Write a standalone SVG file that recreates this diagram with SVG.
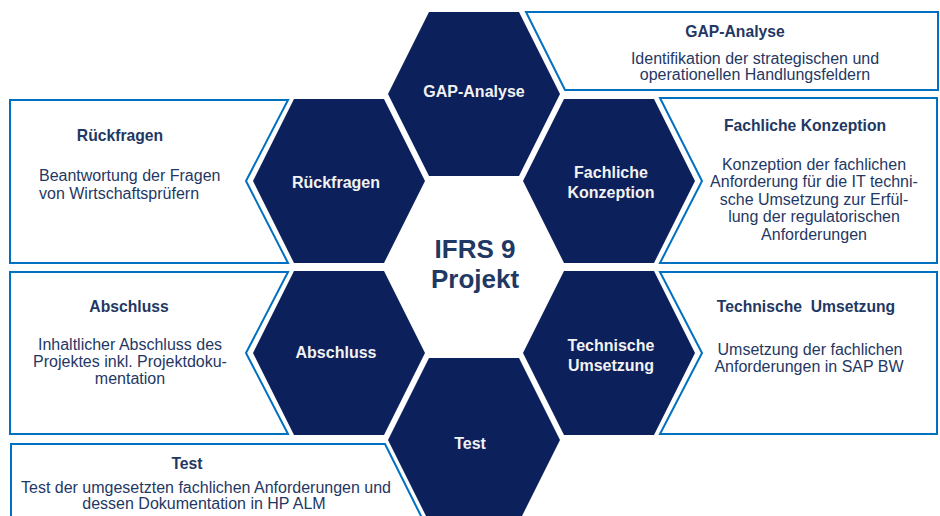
<svg xmlns="http://www.w3.org/2000/svg" width="940" height="516" viewBox="0 0 940 516">
<style>
.hex{fill:#0c205c;}
.hl{font-family:"Liberation Sans",Arial,sans-serif;font-size:16px;font-weight:bold;fill:#f2f2f2;text-anchor:middle;}
.box{fill:#ffffff;stroke:#0070c0;stroke-width:2;stroke-linejoin:miter;}
.bt{font-family:"Liberation Sans",Arial,sans-serif;font-size:15.7px;font-weight:bold;fill:#1f3864;text-anchor:middle;}
.bb{font-family:"Liberation Sans",Arial,sans-serif;font-size:16px;fill:#1f3864;text-anchor:middle;}
.ctr{font-family:"Liberation Sans",Arial,sans-serif;font-size:26px;font-weight:bold;fill:#1f3864;text-anchor:middle;}
</style>
<defs>
<polygon id="hexshape" points="-86,0 -45,-82 45,-82 86,0 45,82 -45,82"/>
</defs>
<rect width="940" height="516" fill="#ffffff"/>
<g id="connectors"></g>

<g id="box-gap">
<polygon class="box" points="526,12 938,12 938,90 565,90"/>
<text class="bt" x="735" y="37">GAP-Analyse</text>
<text class="bb" x="755" y="64">Identifikation der strategischen und</text>
<text class="bb" x="755" y="80">operationellen Handlungsfeldern</text>
</g>

<g id="box-rueckfragen">
<polygon class="box" points="10,100 288,100 246,181 288,263 10,263"/>
<text class="bt" x="120" y="141">Rückfragen</text>
<text class="bb" x="39" y="181" style="text-anchor:start">Beantwortung der Fragen</text>
<text class="bb" x="39" y="199" style="text-anchor:start">von Wirtschaftsprüfern</text>
</g>

<g id="box-fachlich">
<polygon class="box" points="660,98 937,98 937,263 660,263 702,181"/>
<text class="bt" x="805" y="131">Fachliche Konzeption</text>
<text class="bb" x="814" y="170">Konzeption der fachlichen</text>
<text class="bb" x="814" y="187">Anforderung für die IT techni-</text>
<text class="bb" x="814" y="205">sche Umsetzung zur Erfül-</text>
<text class="bb" x="814" y="222">lung der regulatorischen</text>
<text class="bb" x="814" y="240">Anforderungen</text>
</g>

<g id="box-technisch">
<polygon class="box" points="660,272 937,272 937,434 660,434 702,353"/>
<text class="bt" x="806" y="312" xml:space="preserve">Technische  Umsetzung</text>
<text class="bb" x="810" y="355">Umsetzung der fachlichen</text>
<text class="bb" x="809" y="372">Anforderungen in SAP BW</text>
</g>

<g id="box-abschluss">
<polygon class="box" points="10,272 288,272 246,353 288,434 10,434"/>
<text class="bt" x="129" y="312">Abschluss</text>
<text class="bb" x="130" y="350">Inhaltlicher Abschluss des</text>
<text class="bb" x="130" y="367">Projektes inkl. Projektdoku-</text>
<text class="bb" x="130" y="384">mentation</text>
</g>

<g id="box-test">
<polygon class="box" points="11,444 385,444 426,526 11,526"/>
<text class="bt" x="187" y="469">Test</text>
<text class="bb" x="206" y="493">Test der umgesetzten fachlichen Anforderungen und</text>
<text class="bb" x="204" y="509">dessen Dokumentation in HP ALM</text>
</g>

<g id="node-gap">
<use href="#hexshape" class="hex" x="474" y="94"/>
<text class="hl" x="474" y="97">GAP-Analyse</text>
</g>
<g id="node-rueckfragen">
<use href="#hexshape" class="hex" x="339" y="181"/>
<text class="hl" x="336" y="188">Rückfragen</text>
</g>
<g id="node-fachlich">
<use href="#hexshape" class="hex" x="609" y="181"/>
<text class="hl" x="611" y="178">Fachliche</text>
<text class="hl" x="611" y="198">Konzeption</text>
</g>
<g id="node-technisch">
<use href="#hexshape" class="hex" x="609" y="353"/>
<text class="hl" x="611" y="351">Technische</text>
<text class="hl" x="611" y="371">Umsetzung</text>
</g>
<g id="node-abschluss">
<use href="#hexshape" class="hex" x="339" y="353"/>
<text class="hl" x="336" y="358">Abschluss</text>
</g>
<g id="node-test">
<use href="#hexshape" class="hex" x="474" y="440"/>
<text class="hl" x="470" y="449">Test</text>
</g>

<g id="center">
<text class="ctr" x="475" y="258">IFRS 9</text>
<text class="ctr" x="475" y="288">Projekt</text>
</g>
</svg>
